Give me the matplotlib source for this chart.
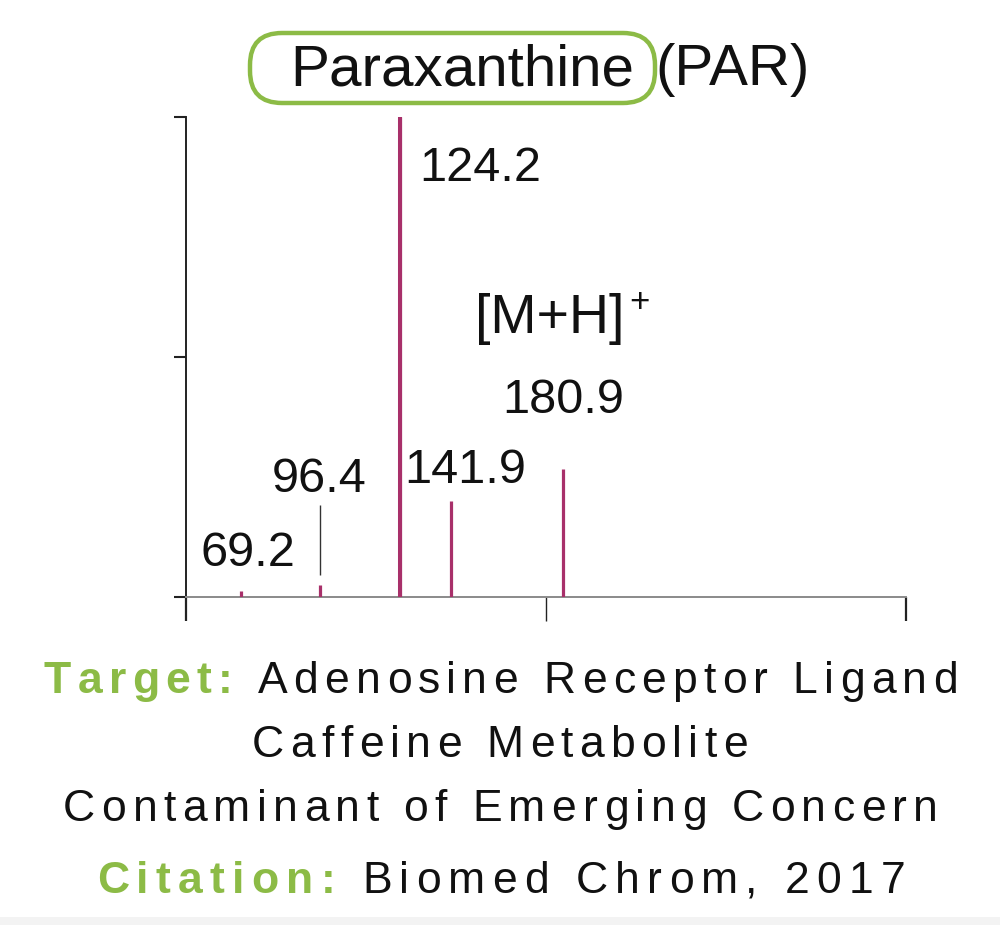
import matplotlib
matplotlib.use('Agg')
import matplotlib.pyplot as plt
from matplotlib.patches import FancyBboxPatch, Rectangle
from matplotlib.transforms import IdentityTransform
from matplotlib.font_manager import FontProperties, findfont, get_font

# peak data
mz = [69.2, 96.4, 124.2, 141.9, 180.9]
intensity = [1.25, 2.4, 100, 20.0, 26.7]
peakLabels = ['69.2', '96.4', '124.2', '141.9', '180.9']

xTicks = [50, 175, 300]
yTicks = [0, 50, 100]

compound = 'Paraxanthine'
abbrev = '(PAR)'
ionLabel = '[M+H]'
ionCharge = '+'

infoLines = [
    [('Target: ', 'green'), ('Adenosine Receptor Ligand', 'black')],
    [('Caffeine Metabolite', 'black')],
    [('Contaminant of Emerging Concern', 'black')],
    [('Citation: ', 'green'), ('Biomed Chrom, 2017', 'black')],
]

peakColor = '#a8306a'
green = '#8cbb46'
ink = '#111111'
figW, figH, dpi = 10, 9.25, 100
labelSize = 35
fontName = 'Liberation Sans'

# label offsets in pixels from the top of each peak (left/baseline of text)
labelOffsets = [(-41, 25), (-48, 93), (20, -64), (-46, 18), (-61, 56)]

fig = plt.figure(figsize=(figW, figH), dpi=dpi)
fig.patch.set_facecolor('white')
W, H = figW * dpi, figH * dpi

ax = fig.add_axes([186 / W, 1 - 597 / H, 720 / W, 480 / H])
ax.set_xlim(50, 300)
ax.set_ylim(0, 100)
ax.vlines(mz, 0, intensity, colors=peakColor, lw=2.3, zorder=3)
ax.vlines(mz[2], 0, intensity[2], colors=peakColor, lw=2.9, zorder=3)

# leader line for 96.4
ax.vlines(mz[1], intensity[1] + 2.2, intensity[1] + 16.8, colors='#333333', lw=1.0)

for x, y, lab, off in zip(mz, intensity, peakLabels, labelOffsets):
    ax.annotate(lab, xy=(x, y), xytext=off, textcoords='offset pixels',
                ha='left', va='baseline', fontsize=labelSize,
                family=fontName, color=ink)
ax.annotate(ionLabel, xy=(mz[4], intensity[4]), xytext=(-88, 136),
            textcoords='offset pixels', ha='left', va='baseline',
            fontsize=40, family=fontName, color=ink)
ax.annotate(ionCharge, xy=(mz[4], intensity[4]), xytext=(66, 166),
            textcoords='offset pixels', ha='left', va='center',
            fontsize=25, family=fontName, color=ink)

for s in ['top', 'right']:
    ax.spines[s].set_visible(False)
ax.spines['left'].set_color('#222222')
ax.spines['left'].set_linewidth(1.4)
ax.spines['bottom'].set_color('#8a8a8a')
ax.spines['bottom'].set_linewidth(1.4)
ax.set_xticks(xTicks)
ax.set_yticks(yTicks)
ax.set_xticklabels([])
ax.set_yticklabels([])
ax.tick_params(axis='y', direction='out', length=9, width=1.5, color='#222222')
ax.tick_params(axis='x', direction='out', length=17, width=1.6, color='#222222')
ax.get_xticklines()[2].set_color(peakColor)
ax.get_xticklines()[2].set_markeredgewidth(1.0)
ax.patch.set_alpha(0)

# title with rounded green box round the compound name
fig.text(290 / W, 1 - 85 / H, compound, fontsize=42, family=fontName,
         color=ink, ha='left', va='baseline')
fig.text(655 / W, 1 - 85 / H, abbrev, fontsize=42, family=fontName,
         color=ink, ha='left', va='baseline')
box = FancyBboxPatch((250, H - 103), 405, 70, boxstyle='round,pad=0,rounding_size=32',
                     transform=IdentityTransform(), fill=False, ec=green, lw=3.2)
fig.add_artist(box)

# letter-spaced info lines, drawn char by char
def advances(text, fp, size):
    font = get_font(findfont(fp))
    font.set_size(size, dpi)
    return [font.load_char(ord(c)).linearHoriAdvance / 65536.0 for c in text]

infoSize = 32
baselines = [693, 757, 821, 893]
# ink extents of each line in the reference, used to set the letter spacing
lineSpans = [(44, 958), (252, 748), (63, 938), (97, 905)]
regular = FontProperties(family=fontName)
bold = FontProperties(family=fontName, weight='bold')

for parts, base, span in zip(infoLines, baselines, lineSpans):
    chars = []
    for txt, col in parts:
        fp = bold if col == 'green' else regular
        for c, a in zip(txt, advances(txt, fp, infoSize)):
            chars.append((c, a, fp, green if col == 'green' else ink))
    natural = sum(a for _, a, _, _ in chars)
    tracking = (span[1] - span[0] - natural) / (len(chars) - 1)
    x = span[0]
    for c, a, fp, col in chars:
        fig.text(x / W, 1 - base / H, c, fontproperties=fp, fontsize=infoSize,
                 color=col, ha='left', va='baseline')
        x += a + tracking

fig.add_artist(Rectangle((0, 0), W, H - 917, transform=IdentityTransform(),
                         color='#f3f3f3', lw=0, zorder=-1))

plt.savefig('out.png', dpi=dpi, facecolor='white')
plt.close()
